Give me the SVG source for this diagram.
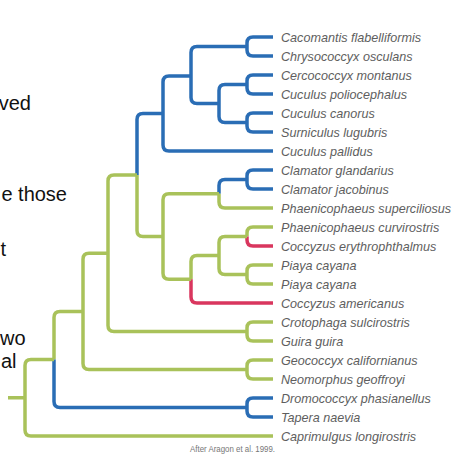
<svg xmlns="http://www.w3.org/2000/svg" width="458" height="463" viewBox="0 0 458 463">
<style>
.e{fill:none;stroke-width:3.5;stroke-linecap:butt;stroke-linejoin:round}
.b{stroke:#2a6db5}
.g{stroke:#a9c25a}
.r{stroke:#d9365e}
.sp{font-family:"Liberation Sans",Arial,sans-serif;font-style:italic;font-size:12.6px;fill:#5e5e5e}
.lt{font-family:"Liberation Sans",Arial,sans-serif;font-size:20px;fill:#111}
.cap{font-family:"Liberation Sans",Arial,sans-serif;font-size:9px;fill:#777}
</style>
<rect width="458" height="463" fill="#fff"/>
<g id="left-text">
<text class="lt" x="31" y="110" text-anchor="end">ved</text>
<text class="lt" x="67" y="201" text-anchor="end">e those</text>
<text class="lt" x="0.5" y="256">t</text>
<text class="lt" x="0" y="345">wo</text>
<text class="lt" x="1" y="368">al</text>
</g>
<g id="connectors">
<path class="e b" d="M247,46.5 V43 Q247,37 253,37 H273 M247,46.5 V50 Q247,56 253,56 H273"/>
<path class="e b" d="M247,84.5 V81 Q247,75 253,75 H273 M247,84.5 V88 Q247,94 253,94 H273"/>
<path class="e b" d="M247,122.5 V119 Q247,113 253,113 H273 M247,122.5 V126 Q247,132 253,132 H273"/>
<path class="e b" d="M219,103.5 V90.5 Q219,84.5 225,84.5 H247 M219,103.5 V116.5 Q219,122.5 225,122.5 H247"/>
<path class="e b" d="M191,76 V52.5 Q191,46.5 197,46.5 H247 M191,76 V97.5 Q191,103.5 197,103.5 H219"/>
<path class="e b" d="M163,113.5 V82 Q163,76 169,76 H191 M163,113.5 V145 Q163,151 169,151 H273"/>
<path class="e b" d="M137,175 V119.5 Q137,113.5 143,113.5 H163"/>
<path class="e b" d="M247,179.5 V176 Q247,170 253,170 H273 M247,179.5 V183 Q247,189 253,189 H273"/>
<path class="e b" d="M219,193.75 V185.5 Q219,179.5 225,179.5 H247"/>
<path class="e g" d="M219,193.75 V202 Q219,208 225,208 H273"/>
<path class="e g" d="M247,236.5 V233 Q247,227 253,227 H273"/>
<path class="e r" d="M247,236.5 V240 Q247,246 253,246 H273"/>
<path class="e g" d="M247,274.5 V271 Q247,265 253,265 H273 M247,274.5 V278 Q247,284 253,284 H273"/>
<path class="e g" d="M219,255.5 V242.5 Q219,236.5 225,236.5 H247 M219,255.5 V268.5 Q219,274.5 225,274.5 H247"/>
<path class="e g" d="M191,279.25 V261.5 Q191,255.5 197,255.5 H219"/>
<path class="e r" d="M191,279.25 V297 Q191,303 197,303 H273"/>
<path class="e g" d="M163,236.5 V199.75 Q163,193.75 169,193.75 H219 M163,236.5 V273.25 Q163,279.25 169,279.25 H191"/>
<path class="e g" d="M137,175 V230.5 Q137,236.5 143,236.5 H163"/>
<path class="e g" d="M247,331.5 V328 Q247,322 253,322 H273 M247,331.5 V335 Q247,341 253,341 H273"/>
<path class="e g" d="M108,253.25 V181 Q108,175 114,175 H137 M108,253.25 V325.5 Q108,331.5 114,331.5 H247"/>
<path class="e g" d="M247,369.5 V366 Q247,360 253,360 H273 M247,369.5 V373 Q247,379 253,379 H273"/>
<path class="e g" d="M83,311.4 V259.25 Q83,253.25 89,253.25 H108 M83,311.4 V363.5 Q83,369.5 89,369.5 H247"/>
<path class="e b" d="M247,407.5 V404 Q247,398 253,398 H273 M247,407.5 V411 Q247,417 253,417 H273"/>
<path class="e g" d="M54,359.5 V317.4 Q54,311.4 60,311.4 H83"/>
<path class="e b" d="M54,359.5 V401.5 Q54,407.5 60,407.5 H247"/>
<path class="e g" d="M25,397.75 V365.5 Q25,359.5 31,359.5 H54 M25,397.75 V430 Q25,436 31,436 H273 M8,397.75 H25"/>
</g>
<g id="labels">
<text class="sp" x="281" y="41.5">Cacomantis flabelliformis</text>
<text class="sp" x="281" y="60.5">Chrysococcyx osculans</text>
<text class="sp" x="281" y="79.5">Cercococcyx montanus</text>
<text class="sp" x="281" y="98.5">Cuculus poliocephalus</text>
<text class="sp" x="281" y="117.5">Cuculus canorus</text>
<text class="sp" x="281" y="136.5">Surniculus lugubris</text>
<text class="sp" x="281" y="155.5">Cuculus pallidus</text>
<text class="sp" x="281" y="174.5">Clamator glandarius</text>
<text class="sp" x="281" y="193.5">Clamator jacobinus</text>
<text class="sp" x="281" y="212.5">Phaenicophaeus superciliosus</text>
<text class="sp" x="281" y="231.5">Phaenicophaeus curvirostris</text>
<text class="sp" x="281" y="250.5">Coccyzus erythrophthalmus</text>
<text class="sp" x="281" y="269.5">Piaya cayana</text>
<text class="sp" x="281" y="288.5">Piaya cayana</text>
<text class="sp" x="281" y="307.5">Coccyzus americanus</text>
<text class="sp" x="281" y="326.5">Crotophaga sulcirostris</text>
<text class="sp" x="281" y="345.5">Guira guira</text>
<text class="sp" x="281" y="364.5">Geococcyx californianus</text>
<text class="sp" x="281" y="383.5">Neomorphus geoffroyi</text>
<text class="sp" x="281" y="402.5">Dromococcyx phasianellus</text>
<text class="sp" x="281" y="421.5">Tapera naevia</text>
<text class="sp" x="281" y="440.5">Caprimulgus longirostris</text>
<text class="cap" x="190" y="452" textLength="85" lengthAdjust="spacingAndGlyphs">After Aragon et al. 1999.</text>
</g>
</svg>
